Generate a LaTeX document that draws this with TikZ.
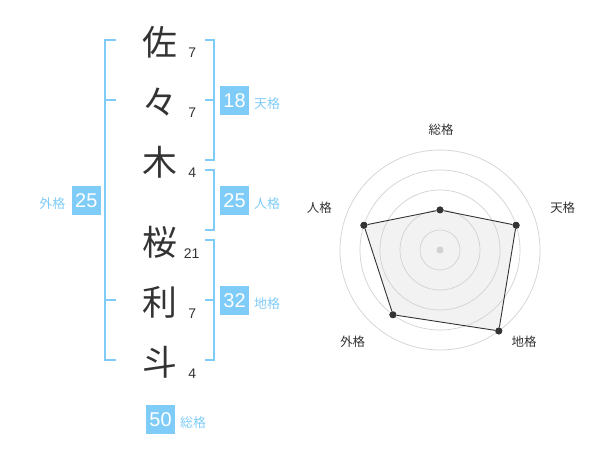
\documentclass[tikz,border=0pt]{standalone}
\usepackage{fontspec}
\setmainfont{Liberation Sans}
\newfontfamily\jpfont{Noto Sans CJK JP}
\definecolor{skyblue}{HTML}{80CCF8}
\definecolor{inkgray}{HTML}{333333}
\definecolor{ringgray}{HTML}{D2D2D2}
\tikzset{
  kanji/.style={font=\jpfont\fontsize{35}{35}\selectfont, text=inkgray, inner sep=0pt},
  strokes/.style={font=\fontsize{14}{14}\selectfont, text=inkgray, inner sep=0pt},
  scorebox/.style={fill=skyblue, text=white, minimum size=29bp, inner sep=0pt, font=\fontsize{20}{20}\selectfont},
  kaku/.style={font=\jpfont\fontsize{13}{13}\selectfont, text=skyblue, inner sep=0pt},
  axislabel/.style={font=\jpfont\fontsize{12.5}{12.5}\selectfont, text=inkgray, inner sep=0pt},
  bracket/.style={draw=skyblue, line width=2bp},
  ring/.style={draw=ringgray, line width=0.7bp},
  spot/.style={circle, fill=inkgray, inner sep=0pt, minimum size=7bp},
}

\begin{document}
\begin{tikzpicture}[x=1bp,y=-1bp]
    \useasboundingbox (0,0) rectangle (600,470);
    % Name characters and stroke counts
    \node[kanji] (c1) at (160,42) {佐};
    \node[kanji] (c2) at (160,102) {々};
    \node[kanji] (c3) at (160,162) {木};
    \node[kanji] (c4) at (160,242) {桜};
    \node[kanji] (c5) at (160,302) {利};
    \node[kanji] (c6) at (160,362) {斗};
    \node[strokes] (n1) at (192.3,52.7) {7};
    \node[strokes] (n2) at (192.3,112.7) {7};
    \node[strokes] (n3) at (192.3,172.7) {4};
    \node[strokes] (n4) at (191.7,253.3) {21};
    \node[strokes] (n5) at (192.3,313.3) {7};
    \node[strokes] (n6) at (192.3,373.3) {4};
    % Brackets
    \draw[bracket] (116,40) -| (105,360) -- (116,360); % Outer bracket
    \draw[bracket] (105,100) -- (116,100);
    \draw[bracket] (105,300) -- (116,300);
    \draw[bracket] (205,40) -| (214,160) -- (205,160); % Heaven bracket
    \draw[bracket] (205,100) -- (214,100);
    \draw[bracket] (205,170) -| (214,230) -- (205,230); % Person bracket
    \draw[bracket] (205,240) -| (214,360) -- (205,360); % Earth bracket
    \draw[bracket] (205,300) -- (214,300);
    % Scores
    \node[scorebox] (ten) at (234.5,100.5) {18};
    \node[kaku, anchor=west] (tenlabel) at (254,104) {天格};
    \node[scorebox] (jin) at (234.5,201) {25};
    \node[kaku, anchor=west] (jinlabel) at (254,204) {人格};
    \node[scorebox] (chi) at (234.5,300.5) {32};
    \node[kaku, anchor=west] (chilabel) at (254,304) {地格};
    \node[scorebox] (gai) at (86.3,200.5) {25};
    \node[kaku, anchor=east] (gailabel) at (65.5,203.3) {外格};
    \node[scorebox] (sou) at (160.5,419.5) {50};
    \node[kaku, anchor=west] (soulabel) at (180,422.3) {総格};
    % Radar chart
    \coordinate (O) at (440,250);
    \node[spot] (psou) at ([shift={(-90:40)}]O) {};
    \node[spot] (pten) at ([shift={(-18:80)}]O) {};
    \node[spot] (pchi) at ([shift={(54:100)}]O) {};
    \node[spot] (pgai) at ([shift={(126:80)}]O) {};
    \node[spot] (pjin) at ([shift={(198:80)}]O) {};
    \fill[black!5] (psou.center) -- (pten.center) -- (pchi.center) -- (pgai.center) -- (pjin.center) -- cycle;
    \foreach \r in {20,40,60,80,100} \draw[ring] (O) circle (\r);
    \fill[ringgray] (O) circle (3.5);
    \draw[inkgray, line width=0.9bp] (psou) -- (pten) -- (pchi) -- (pgai) -- (pjin) -- (psou);
    \foreach \p in {psou,pten,pchi,pgai,pjin} \node[spot] at (\p) {};
    \node[axislabel] (lsou) at (441,130) {総格};
    \node[axislabel] (lten) at (562.7,208) {天格};
    \node[axislabel] (lchi) at (524,341.7) {地格};
    \node[axislabel] (lgai) at (352.7,341.7) {外格};
    \node[axislabel] (ljin) at (319.3,208) {人格};
\end{tikzpicture}
\end{document}
